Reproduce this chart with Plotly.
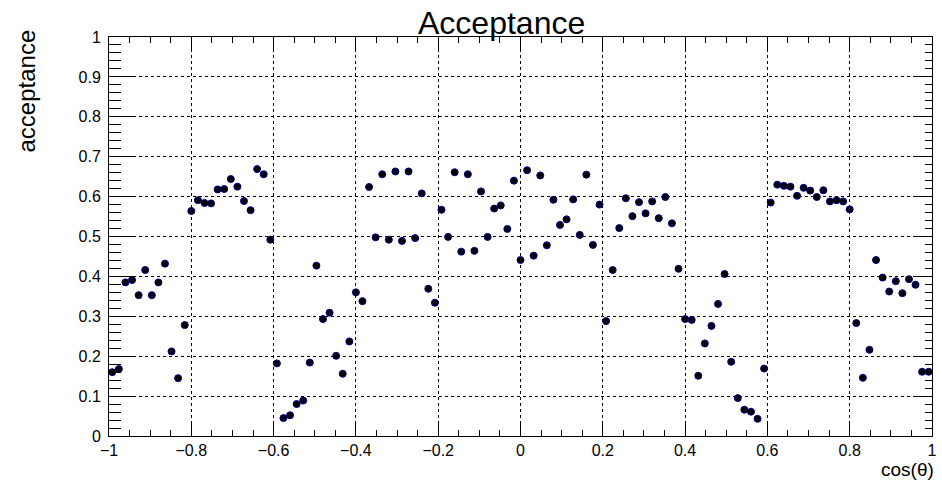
import plotly.graph_objects as go

# Histogram binning (125 bins on [-1, 1])
bin_low = -1.0
bin_width = 0.016
n_bins = 125
cos_theta = [round(bin_low + bin_width * (k + 0.5), 4) for k in range(n_bins)]

acceptance = [
    0.160, 0.168, 0.385, 0.391, 0.353, 0.416, 0.353, 0.385, 0.432, 0.212,
    0.145, 0.278, 0.564, 0.591, 0.584, 0.583, 0.618, 0.619, 0.644, 0.625,
    0.589, 0.566, 0.669, 0.656, 0.492, 0.182, 0.045, 0.052, 0.080, 0.089,
    0.184, 0.427, 0.293, 0.309, 0.201, 0.156, 0.237, 0.360, 0.338, 0.624,
    0.498, 0.656, 0.492, 0.663, 0.489, 0.663, 0.496, 0.608, 0.369, 0.334,
    0.567, 0.499, 0.661, 0.462, 0.656, 0.464, 0.613, 0.499, 0.570, 0.578,
    0.519, 0.640, 0.441, 0.666, 0.452, 0.653, 0.478, 0.592, 0.529, 0.543,
    0.593, 0.504, 0.655, 0.479, 0.580, 0.288, 0.416, 0.521, 0.596, 0.551,
    0.586, 0.558, 0.588, 0.546, 0.599, 0.533, 0.419, 0.293, 0.291, 0.151,
    0.232, 0.276, 0.331, 0.406, 0.186, 0.095, 0.066, 0.061, 0.043, 0.169,
    0.585, 0.630, 0.627, 0.625, 0.602, 0.622, 0.615, 0.599, 0.616, 0.588,
    0.591, 0.588, 0.568, 0.283, 0.146, 0.216, 0.441, 0.397, 0.362, 0.388,
    0.358, 0.393, 0.379, 0.161, 0.161,
]

x_tickvals = [-1, -0.8, -0.6, -0.4, -0.2, 0, 0.2, 0.4, 0.6, 0.8, 1]
x_ticktext = ["\u22121", "\u22120.8", "\u22120.6", "\u22120.4", "\u22120.2", "0", "0.2", "0.4", "0.6", "0.8", "1"]
y_tickvals = [0, 0.1, 0.2, 0.3, 0.4, 0.5, 0.6, 0.7, 0.8, 0.9, 1]
y_ticktext = ["0", "0.1", "0.2", "0.3", "0.4", "0.5", "0.6", "0.7", "0.8", "0.9", "1"]

FONT = "Liberation Sans, Arial, sans-serif"

fig = go.Figure()
fig.add_trace(go.Scatter(
    x=cos_theta, y=acceptance, mode="markers",
    marker=dict(symbol="circle", size=7, color="#000000",
                line=dict(color="#00008b", width=1)),
    error_x=dict(type="constant", value=bin_width / 2, width=0,
                 thickness=1.5, color="#000000"),
    showlegend=False, hoverinfo="x+y",
))
# dummy trace to activate top/right tick axes
fig.add_trace(go.Scatter(x=[], y=[], xaxis="x2", yaxis="y2",
                         showlegend=False, hoverinfo="skip"))

fig.update_layout(
    width=942, height=489,
    margin=dict(l=109, r=5, t=37, b=53),
    paper_bgcolor="white", plot_bgcolor="white",
    font=dict(family=FONT, color="black", size=16),
    xaxis=dict(
        range=[-1, 1], tickvals=x_tickvals, ticktext=x_ticktext,
        ticks="inside", ticklen=12, tickcolor="black", tickwidth=1,
        minor=dict(ticks="inside", ticklen=6, dtick=0.05, tick0=-1,
                   tickcolor="black", showgrid=False),
        showline=True, linecolor="black", linewidth=1, mirror=True,
        showgrid=True, gridcolor="black", gridwidth=1, griddash="3px,3px",
        zeroline=False, tickfont=dict(size=16, family=FONT),
    ),
    xaxis2=dict(
        range=[-1, 1], overlaying="x", side="top", anchor="y",
        tickvals=x_tickvals, showticklabels=False,
        ticks="inside", ticklen=12, tickcolor="black",
        minor=dict(ticks="inside", ticklen=6, dtick=0.05, tick0=-1,
                   tickcolor="black", showgrid=False),
        showgrid=False, zeroline=False, showline=False,
    ),
    yaxis=dict(
        range=[0, 1], tickvals=y_tickvals, ticktext=y_ticktext,
        ticks="inside", ticklen=25, tickcolor="black", tickwidth=1,
        minor=dict(ticks="inside", ticklen=12, dtick=0.02, tick0=0,
                   tickcolor="black", showgrid=False),
        showline=True, linecolor="black", linewidth=1, mirror=True,
        showgrid=True, gridcolor="black", gridwidth=1, griddash="3px,3px",
        zeroline=False, tickfont=dict(size=16, family=FONT),
        ticklabelstandoff=4,
    ),
    yaxis2=dict(
        range=[0, 1], overlaying="y", side="right", anchor="x",
        tickvals=y_tickvals, showticklabels=False,
        ticks="inside", ticklen=18, tickcolor="black",
        minor=dict(ticks="inside", ticklen=7, dtick=0.02, tick0=0,
                   tickcolor="black", showgrid=False),
        showgrid=False, zeroline=False, showline=False,
    ),
    annotations=[
        dict(text="Acceptance", xref="paper", yref="paper",
             x=(504 - 109) / 828, y=1, xanchor="center", yanchor="bottom",
             yshift=-6, showarrow=False, font=dict(size=32, family=FONT)),
        dict(text="acceptance", xref="paper", yref="paper",
             x=(25 - 109) / 828, y=(436 - 91) / 399, xanchor="center",
             yanchor="middle", textangle=-90, showarrow=False,
             font=dict(size=24, family=FONT)),
        dict(text="cos(\u03b8)", xref="paper", yref="paper",
             x=(941 - 109) / 828, y=(436 - 470) / 399, xanchor="right",
             yanchor="middle", showarrow=False,
             font=dict(size=19, family=FONT)),
    ],
)

fig.write_html("out.html")
